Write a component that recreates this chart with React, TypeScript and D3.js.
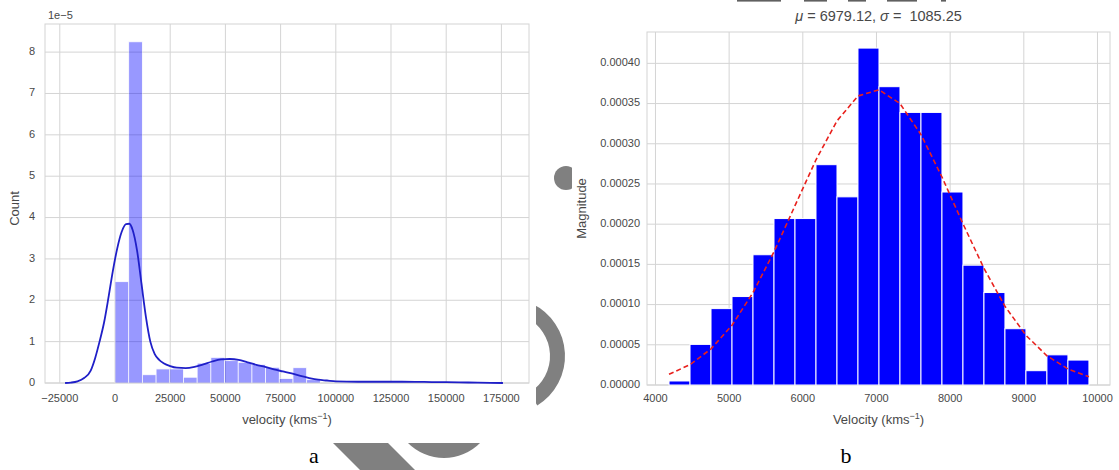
import React from 'react';
import * as d3 from 'd3';

// ---------- data: panel a (seaborn distplot, density ×1e-5) ----------
const leftBinStart = 0;
const leftBinWidth = 6200;
const leftHeights = [2.45, 8.25, 0.2, 0.34, 0.34, 0.14, 0.48, 0.62, 0.54, 0.5, 0.45, 0.38, 0.11, 0.37, 0.08];
const kdeVel = [-22600, -20000, -17000, -14000, -11000, -9000, -7000, -5000, -3000, -1000, 1000, 3000, 5000, 6500, 8000, 10000, 12000, 14000, 16000, 18000, 20000, 22000, 25000, 28000, 32000, 36000, 40000, 44000, 48000, 52000, 56000, 60000, 64000, 68000, 72000, 76000, 80000, 84000, 88000, 92000, 96000, 100000, 110000, 120000, 130000, 140000, 150000, 160000, 170000, 175700];
const kdeDens = [0, 0.01, 0.04, 0.12, 0.3, 0.6, 1.0, 1.45, 2.05, 2.7, 3.25, 3.65, 3.84, 3.85, 3.7, 3.2, 2.4, 1.6, 1.0, 0.7, 0.56, 0.48, 0.41, 0.37, 0.36, 0.39, 0.45, 0.52, 0.57, 0.58, 0.56, 0.5, 0.44, 0.39, 0.33, 0.28, 0.23, 0.17, 0.12, 0.08, 0.06, 0.04, 0.03, 0.03, 0.03, 0.025, 0.02, 0.012, 0.005, 0];
const leftXTicks = [-25000, 0, 25000, 50000, 75000, 100000, 125000, 150000, 175000];
const leftYTicks = [0, 1, 2, 3, 4, 5, 6, 7, 8];

// ---------- data: panel b (histogram + normal fit) ----------
const rightBinStart = 4184;
const rightBinWidth = 285;
const rightDensity = [0.000005, 0.0000505, 0.000095, 0.00011, 0.000162, 0.000207, 0.000207, 0.000274, 0.000234, 0.000419, 0.000371, 0.000339, 0.000339, 0.00024, 0.000149, 0.000115, 0.00007, 0.0000178, 0.0000375, 0.000031];
const fitDensity = [0.00001333, 0.00002533, 0.00004493, 0.00007437, 0.00011489, 0.00016567, 0.00022299, 0.00028011, 0.00032844, 0.00035943, 0.00036713, 0.00035001, 0.00031145, 0.00025867, 0.00020051, 0.00014508, 0.00009798, 0.00006175, 0.00003633, 0.00001995, 0.00001023];
const rightXTicks = [4000, 5000, 6000, 7000, 8000, 9000, 10000];
const rightYTicks = [0, 0.00005, 0.0001, 0.00015, 0.0002, 0.00025, 0.0003, 0.00035, 0.0004];
const fitMu = '6979.12';
const fitSigma = '1085.25';

const W = 1119;
const H = 470;
const tickFont = { fontFamily: 'Liberation Sans, Arial, sans-serif', fontSize: 11, fill: '#484848' };
const labelFont = { fontFamily: 'Liberation Sans, Arial, sans-serif', fontSize: 13, fill: '#484848' };
const grid = '#d4d4d4';
const wm = '#808080';

export default function App() {
  // panel a scales
  const xL = d3.scaleLinear().domain([-31700, 187500]).range([45, 529]);
  const yL = d3.scaleLinear().domain([0, 8.68]).range([383, 24]);
  // panel b scales
  const xR = d3.scaleLinear().domain([3885, 10170]).range([647, 1110]);
  const yR = d3.scaleLinear().domain([0, 0.000439]).range([385, 32]);

  const kdeLine = d3
    .line<number>()
    .x((_, i) => xL(kdeVel[i]))
    .y((d) => yL(d))
    .curve(d3.curveMonotoneX)(kdeDens) as string;

  const fitLine = d3
    .line<number>()
    .x((_, i) => xR(rightBinStart + i * rightBinWidth))
    .y((d) => yR(d))(fitDensity) as string;

  const [lx0, lx1] = xL.range();
  const [ly0, ly1] = yL.range();
  const [rx0, rx1] = xR.range();
  const [ry0, ry1] = yR.range();

  const arcPath = d3.arc()({ innerRadius: 43, outerRadius: 58, startAngle: 0.45, endAngle: Math.PI - 0.55 }) as string;

  return (
    <svg width={W} height={H} style={{ position: 'absolute', left: 0, top: 0, background: '#fff' }}>
      {/* watermark shapes (behind the two figure images) */}
      <g fill={wm}>
        <circle cx={566} cy={178} r={12} />
        <path d={arcPath} transform="translate(507,356)" />
        <polygon points="333,443 388,443 418,473 363,473" />
        <circle cx={444} cy={407} r={51} />
      </g>
      {/* figure image backgrounds */}
      <rect x={0} y={0} width={536} height={443} fill="#fff" />
      <rect x={572} y={0} width={W - 572} height={443} fill="#fff" />

      {/* clipped remnants of an upper title line */}
      <g fill="#606060">
        {[[737, 781], [804, 827], [848, 866], [887, 917], [941, 946]].map(([a, b], i) => (
          <rect key={i} x={a} y={0} width={b - a} height={1.6} />
        ))}
      </g>

      {/* ---------------- panel a ---------------- */}
      <g>
        {leftYTicks.map((t) => (
          <line key={'lyg' + t} x1={lx0} x2={lx1} y1={yL(t)} y2={yL(t)} stroke={grid} strokeWidth={1} />
        ))}
        {leftXTicks.map((t) => (
          <line key={'lxg' + t} x1={xL(t)} x2={xL(t)} y1={ly0} y2={ly1} stroke={grid} strokeWidth={1} />
        ))}
        <rect x={lx0} y={ly1} width={lx1 - lx0} height={ly0 - ly1} fill="none" stroke={grid} strokeWidth={1} />
        {leftHeights.map((h, i) => {
          const a = leftBinStart + i * leftBinWidth;
          return (
            <rect
              key={'lb' + i}
              x={xL(a)}
              y={yL(h)}
              width={xL(a + leftBinWidth) - xL(a)}
              height={yL(0) - yL(h)}
              fill="#0000ff"
              stroke="#fff"
              strokeWidth={0.8}
              opacity={0.4}
            />
          );
        })}
        <path d={kdeLine} fill="none" stroke="#1f1fc8" strokeWidth={1.8} />
        {leftYTicks.map((t) => (
          <text key={'lyt' + t} x={35} y={yL(t)} textAnchor="end" dominantBaseline="middle" {...tickFont}>
            {t}
          </text>
        ))}
        {leftXTicks.map((t) => (
          <text key={'lxt' + t} x={xL(t)} y={399} textAnchor="middle" dominantBaseline="middle" {...tickFont}>
            {t < 0 ? '\u2212' + Math.abs(t) : t}
          </text>
        ))}
        <text x={48} y={16} dominantBaseline="middle" {...tickFont}>1e−5</text>
        <text x={(lx0 + lx1) / 2} y={424} textAnchor="middle" {...labelFont}>
          velocity (kms<tspan dy={-5} fontSize={9}>−1</tspan><tspan dy={5}>)</tspan>
        </text>
        <text transform={`translate(16,${(ly0 + ly1) / 2 + 5}) rotate(-90)`} textAnchor="middle" dominantBaseline="middle" {...labelFont}>
          Count
        </text>
      </g>

      {/* ---------------- panel b ---------------- */}
      <g>
        {rightYTicks.map((t) => (
          <line key={'ryg' + t} x1={rx0} x2={rx1} y1={yR(t)} y2={yR(t)} stroke={grid} strokeWidth={1} />
        ))}
        {rightXTicks.map((t) => (
          <line key={'rxg' + t} x1={xR(t)} x2={xR(t)} y1={ry0} y2={ry1} stroke={grid} strokeWidth={1} />
        ))}
        <rect x={rx0} y={ry1} width={rx1 - rx0} height={ry0 - ry1} fill="none" stroke={grid} strokeWidth={1} />
        {rightDensity.map((h, i) => {
          const a = rightBinStart + i * rightBinWidth;
          return (
            <rect
              key={'rb' + i}
              x={xR(a)}
              y={yR(h)}
              width={xR(a + rightBinWidth) - xR(a)}
              height={yR(0) - yR(h)}
              fill="#0000ff"
              stroke="#fff"
              strokeWidth={1}
            />
          );
        })}
        <path d={fitLine} fill="none" stroke="#e8201c" strokeWidth={1.6} strokeDasharray="5,3" />
        {rightYTicks.map((t) => (
          <text key={'ryt' + t} x={640} y={yR(t)} textAnchor="end" dominantBaseline="middle" {...tickFont}>
            {t.toFixed(5)}
          </text>
        ))}
        {rightXTicks.map((t) => (
          <text key={'rxt' + t} x={xR(t)} y={399} textAnchor="middle" dominantBaseline="middle" {...tickFont}>
            {t}
          </text>
        ))}
        <text x={(rx0 + rx1) / 2} y={17} textAnchor="middle" dominantBaseline="middle" style={{ whiteSpace: 'pre' }} {...labelFont} fontSize={14.5}>
          <tspan fontStyle="italic">μ</tspan>{' = ' + fitMu + ', '}<tspan fontStyle="italic">σ</tspan>{' =  ' + fitSigma}
        </text>
        <text x={(rx0 + rx1) / 2} y={424} textAnchor="middle" {...labelFont}>
          Velocity (kms<tspan dy={-5} fontSize={9}>−1</tspan><tspan dy={5}>)</tspan>
        </text>
        <text transform={`translate(583,${(ry0 + ry1) / 2}) rotate(-90)`} textAnchor="middle" dominantBaseline="middle" {...labelFont}>
          Magnitude
        </text>
      </g>

      {/* panel letters */}
      <text x={314} y={463} textAnchor="middle" fontFamily="Liberation Serif, Times New Roman, serif" fontSize={22} fill="#000">a</text>
      <text x={846} y={463} textAnchor="middle" fontFamily="Liberation Serif, Times New Roman, serif" fontSize={22} fill="#000">b</text>
    </svg>
  );
}
